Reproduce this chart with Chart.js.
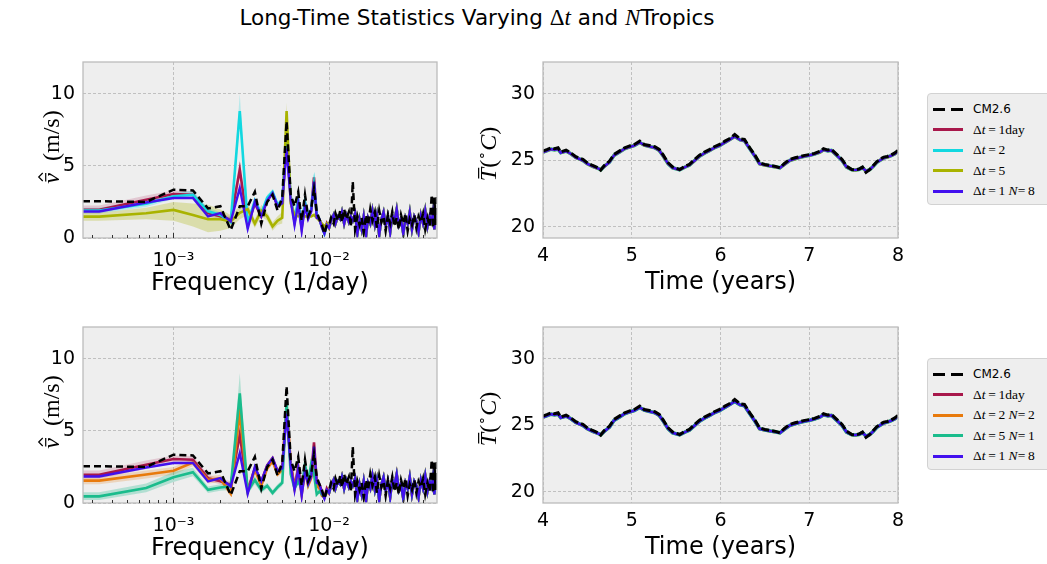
<!DOCTYPE html>
<html>
<head>
<meta charset="utf-8">
<script src="https://cdn.jsdelivr.net/npm/chart.js@4.4.0/dist/chart.umd.min.js"></script>
<style>
  body { margin:0; width:1047px; height:564px; background:#fff; position:relative; overflow:hidden;
         font-family:"DejaVu Sans", sans-serif; color:#000; }
  canvas { position:absolute; }
  .txt { position:absolute; white-space:nowrap; transform:translate(-50%,-50%); }
  .m { font-family:"Liberation Serif", serif; font-size:23px; }
  .legend { position:absolute; width:150px; padding:5px 0 2px 5px; background:#eeeeee;
            border:1px solid #d2d2d2; border-radius:4px; box-sizing:border-box; }
  .row { height:20.5px; display:flex; align-items:center; }
  .sw { width:30px; height:2.6px; margin-right:10px; flex:none; }
  .lt { font-family:"Liberation Serif", serif; font-size:13.5px; }
  .lt.sans { font-family:"DejaVu Sans", sans-serif; font-size:12px; }
</style>
</head>
<body>
<div class="txt" style="left:477px;top:18px;font-size:21.5px">Long-Time Statistics Varying <span class="m">Δ<i>t</i></span> and <span class="m"><i>N</i></span>Tropics</div>

<canvas id="specTop" width="449" height="258" style="left:3px;top:42px"></canvas>
<canvas id="timeTop" width="450" height="258" style="left:463px;top:42px"></canvas>
<canvas id="specBot" width="449" height="258" style="left:3px;top:307px"></canvas>
<canvas id="timeBot" width="450" height="258" style="left:463px;top:307px"></canvas>

<div class="legend" style="left:927px;top:93px">
  <div class="row"><span class="sw" style="background:linear-gradient(to right,#000 0 12px,transparent 12px 18px,#000 18px 30px)"></span><span class="lt sans">CM2.6</span></div>
  <div class="row"><span class="sw" style="background:#a8184b"></span><span class="lt">Δ<i>t</i>&thinsp;=&thinsp;1day</span></div>
  <div class="row"><span class="sw" style="background:#12d8e0"></span><span class="lt">Δ<i>t</i>&thinsp;=&thinsp;2</span></div>
  <div class="row"><span class="sw" style="background:#a9b300"></span><span class="lt">Δ<i>t</i>&thinsp;=&thinsp;5</span></div>
  <div class="row"><span class="sw" style="background:#4210ee"></span><span class="lt">Δ<i>t</i>&thinsp;=&thinsp;1 <i>N</i>=&thinsp;8</span></div>
</div>
<div class="legend" style="left:927px;top:358px">
  <div class="row"><span class="sw" style="background:linear-gradient(to right,#000 0 12px,transparent 12px 18px,#000 18px 30px)"></span><span class="lt sans">CM2.6</span></div>
  <div class="row"><span class="sw" style="background:#a8184b"></span><span class="lt">Δ<i>t</i>&thinsp;=&thinsp;1day</span></div>
  <div class="row"><span class="sw" style="background:#e87a0c"></span><span class="lt">Δ<i>t</i>&thinsp;=&thinsp;2 <i>N</i>=&thinsp;2</span></div>
  <div class="row"><span class="sw" style="background:#1abc8c"></span><span class="lt">Δ<i>t</i>&thinsp;=&thinsp;5 <i>N</i>=&thinsp;1</span></div>
  <div class="row"><span class="sw" style="background:#4210ee"></span><span class="lt">Δ<i>t</i>&thinsp;=&thinsp;1 <i>N</i>=&thinsp;8</span></div>
</div>

<script>
// ---- spectrum data (frequency in 1/day) ----
const freqLow = [0.000262, 0.000333, 0.000667, 0.001, 0.001333, 0.001667, 0.002, 0.002333, 0.002667, 0.003,
                 0.003333, 0.003667, 0.004, 0.004333, 0.004667, 0.005, 0.005333, 0.005667, 0.006, 0.006333,
                 0.006667, 0.007, 0.007333, 0.007667, 0.008, 0.008333, 0.008667, 0.009, 0.009333, 0.009667];
const freqHigh = [0.0100, 0.0103, 0.0107, 0.0110, 0.0114, 0.0118, 0.0121, 0.0125, 0.0129, 0.0134,
                  0.0138, 0.0142, 0.0147, 0.0152, 0.0157, 0.0162, 0.0167, 0.0173, 0.0178, 0.0184,
                  0.0190, 0.0197, 0.0203, 0.0210, 0.0217, 0.0224, 0.0231, 0.0239, 0.0247, 0.0255,
                  0.0263, 0.0272, 0.0281, 0.0290, 0.0300, 0.0310, 0.0320, 0.0330, 0.0341, 0.0353,
                  0.0364, 0.0376, 0.0389, 0.0402, 0.0415, 0.0429, 0.0443, 0.0457, 0.0466, 0.0475,
                  0.0484, 0.0495];

const cmLow   = [2.55, 2.55, 2.5, 3.35, 3.3, 2.05, 2.2, 0.55, 2.2, 2.2, 3.2, 1.0, 2.5, 3.0, 1.9, 2.8, 8.1, 3.0, 2.2, 3.2,
                 1.2, 3.0, 1.5, 2.0, 3.4, 1.8, 1.3, 0.9, 0.3, 0.9];
const d1Low   = [1.95, 1.95, 2.65, 3.05, 3.0, 1.72, 1.5, 1.26, 4.74, 0.9, 2.4, 1.5, 2.6, 3.1, 2.2, 2.5, 6.6, 2.8, 1.1, 2.5,
                 0.7, 2.4, 1.4, 1.9, 4.2, 1.5, 1.3, 0.8, 0.4, 1.0];
const d2Low   = [1.9, 1.9, 2.37, 2.9, 3.0, 1.85, 1.6, 1.1, 8.8, 1.0, 2.6, 1.7, 2.8, 3.2, 2.3, 2.6, 7.0, 2.9, 1.3, 2.6,
                 0.9, 2.5, 1.5, 2.0, 3.7, 1.6, 1.3, 0.8, 0.3, 0.9];
const d5Low   = [1.48, 1.48, 1.72, 1.95, 1.6, 1.3, 1.3, 1.15, 1.75, 2.0, 1.0, 1.9, 1.5, 0.8, 1.2, 1.4, 8.8, 2.4, 1.6, 1.5,
                 1.6, 1.5, 1.5, 1.5, 1.6, 1.4, 1.2, 1.0, 0.8, 1.0];
const n8Low   = [1.84, 1.84, 2.46, 2.77, 2.77, 1.49, 1.72, 1.15, 3.46, 0.65, 2.5, 1.5, 2.6, 3.1, 2.2, 2.4, 6.2, 2.6, 0.9, 2.4,
                 0.5, 2.2, 1.3, 1.8, 3.9, 1.4, 1.3, 0.7, 0.3, 0.9];
const d2n2Low = [1.55, 1.55, 1.97, 2.24, 2.8, 1.6, 1.7, 0.65, 6.3, 0.8, 2.3, 1.2, 2.4, 2.9, 2.0, 2.3, 6.8, 2.7, 1.0, 2.3,
                 0.6, 2.2, 1.2, 1.7, 3.5, 1.2, 1.0, 0.5, 0.4, 0.7];
const d5n1Low = [0.46, 0.46, 1.04, 1.78, 2.13, 0.92, 1.08, 1.15, 7.6, 0.8, 1.6, 0.9, 1.2, 0.7, 1.1, 1.4, 7.0, 2.0, 1.0, 1.5,
                 1.0, 2.7, 1.5, 2.7, 2.0, 0.6, 0.8, 0.6, 0.4, 0.8];

const hfCM    = [0.9, 1.4, 1.0, 1.7, 1.2, 1.9, 1.1, 2.0, 1.3, 1.8, 0.8, 3.9, 0.6, 1.5, 0.9, 1.4, 0.4, 1.6, 0.9, 2.0,
                 1.2, 1.8, 0.7, 1.9, 1.1, 1.5, 0.5, 1.6, 1.0, 1.8, 0.8, 1.4, 0.6, 1.6, 1.0, 1.7, 0.5, 1.3, 0.9, 1.6,
                 0.7, 1.5, 1.1, 1.7, 0.6, 1.4, 0.8, 3.0, 0.7, 2.8, 0.9, 3.1];
const hfModel = [0.7, 1.2, 1.6, 1.0, 1.5, 1.3, 1.8, 1.0, 1.6, 1.1, 1.5, 1.2, 1.7, 0.3, 1.3, 0.6, 1.5, 0.2, 1.4, 1.0,
                 1.9, 0.9, 1.6, 0.2, 1.3, 1.8, 0.9, 1.5, 0.4, 1.6, 1.2, 2.0, 0.9, 1.3, 0.3, 1.4, 1.0, 1.8, 0.6, 1.5,
                 1.2, 0.4, 1.6, 1.0, 1.9, 0.8, 1.5, 1.1, 1.8, 0.6, 1.7, 1.2];

// shaded spread, first 18 frequencies
const d1BandLo = [1.7, 1.7, 2.35, 2.75, 2.75, 1.5, 1.3, 1.0, 4.2, 0.7, 2.2, 1.3, 2.4, 2.9, 2.0, 2.3, 6.2, 2.6];
const d1BandHi = [2.25, 2.25, 2.95, 3.3, 3.25, 1.95, 1.7, 1.5, 5.4, 1.1, 2.6, 1.7, 2.8, 3.3, 2.4, 2.7, 7.0, 3.0];
const d2BandLo = [1.7, 1.7, 2.15, 2.7, 2.75, 1.6, 1.4, 0.9, 7.9, 0.8, 2.4, 1.5, 2.6, 3.0, 2.1, 2.4, 6.6, 2.7];
const d2BandHi = [2.1, 2.1, 2.6, 3.1, 3.3, 2.1, 1.8, 1.3, 10.0, 1.2, 2.8, 1.9, 3.0, 3.4, 2.5, 2.8, 7.5, 3.1];
const d5BandLo = [1.2, 1.2, 1.3, 1.2, 0.8, 0.4, 0.5, 0.7, 1.3, 1.6, 0.7, 1.5, 1.2, 0.5, 0.9, 1.0, 8.2, 2.0];
const d5BandHi = [1.75, 1.75, 2.1, 2.5, 2.4, 2.3, 2.0, 1.6, 2.2, 2.4, 1.3, 2.3, 1.8, 1.1, 1.5, 1.8, 9.4, 2.8];
const d2n2BandLo = [1.3, 1.3, 1.7, 1.95, 2.55, 1.35, 1.45, 0.45, 5.9, 0.6, 2.1, 1.0, 2.2, 2.7, 1.8, 2.1, 6.4, 2.5];
const d2n2BandHi = [1.8, 1.8, 2.25, 2.5, 3.05, 1.85, 1.95, 0.9, 6.8, 1.0, 2.5, 1.4, 2.6, 3.1, 2.2, 2.5, 7.2, 2.9];
const d5n1BandLo = [0.2, 0.2, 0.75, 1.45, 1.85, 0.7, 0.85, 0.9, 6.5, 0.6, 1.3, 0.7, 1.0, 0.5, 0.9, 1.2, 6.5, 1.8];
const d5n1BandHi = [0.75, 0.75, 1.35, 2.15, 2.45, 1.15, 1.3, 1.4, 9.0, 1.0, 1.9, 1.1, 1.4, 0.9, 1.3, 1.6, 7.5, 2.3];

// ---- temperature time series ----
const years = [4.0, 4.05, 4.09, 4.13, 4.17, 4.2, 4.26, 4.31, 4.37, 4.45, 4.5, 4.56, 4.62, 4.65, 4.69, 4.75, 4.8, 4.86, 4.92, 4.97,
               5.03, 5.09, 5.14, 5.2, 5.26, 5.31, 5.35, 5.41, 5.46, 5.54, 5.6, 5.65, 5.71, 5.76, 5.82, 5.88, 5.93, 5.99, 6.05, 6.1,
               6.16, 6.22, 6.27, 6.33, 6.39, 6.44, 6.5, 6.56, 6.61, 6.67, 6.72, 6.78, 6.84, 6.89, 6.95, 7.01, 7.06, 7.12, 7.16, 7.21,
               7.25, 7.31, 7.37, 7.42, 7.48, 7.52, 7.56, 7.6, 7.64, 7.68, 7.72, 7.76, 7.8, 7.84, 7.88, 7.92, 7.96, 8.0];
const tempCM = [25.70, 25.83, 25.95, 25.88, 25.95, 25.63, 25.78, 25.58, 25.28, 25.08, 24.82, 24.62, 24.45, 24.27, 24.62, 24.95, 25.45, 25.70, 25.95, 26.08,
                26.2, 26.45, 26.2, 26.13, 26.03, 25.83, 25.45, 24.82, 24.52, 24.32, 24.57, 24.70, 25.08, 25.38, 25.63, 25.83, 26.03, 26.2, 26.45, 26.63,
                26.95, 26.63, 26.58, 25.95, 25.38, 24.82, 24.7, 24.62, 24.57, 24.45, 24.77, 25.08, 25.2, 25.28, 25.38, 25.45, 25.53, 25.7, 25.88, 25.78,
                25.83, 25.45, 25.08, 24.57, 24.32, 24.3, 24.35, 24.5, 24.1, 24.3, 24.6, 24.9, 25.1, 25.25, 25.3, 25.4, 25.55, 25.75];
const tempModel = [25.62, 25.75, 25.85, 25.8, 25.85, 25.58, 25.7, 25.52, 25.22, 25.0, 24.75, 24.55, 24.4, 24.3, 24.55, 24.88, 25.38, 25.62, 25.88, 26.0,
                   26.12, 26.35, 26.15, 26.05, 25.95, 25.75, 25.38, 24.75, 24.45, 24.3, 24.5, 24.65, 25.0, 25.3, 25.55, 25.75, 25.95, 26.12, 26.35, 26.55,
                   26.8, 26.55, 26.48, 25.88, 25.3, 24.75, 24.65, 24.58, 24.52, 24.45, 24.7, 25.0, 25.12, 25.22, 25.32, 25.4, 25.48, 25.62, 25.8, 25.72,
                   25.75, 25.38, 25.0, 24.5, 24.3, 24.28, 24.32, 24.45, 24.2, 24.3, 24.55, 24.85, 25.02, 25.18, 25.25, 25.35, 25.48, 25.68];

// ---- ticks ----
const freqTicks = [0.0003, 0.0004, 0.0005, 0.0006, 0.0007, 0.0008, 0.0009, 0.001, 0.002, 0.003, 0.004, 0.005, 0.006,
                   0.007, 0.008, 0.009, 0.01, 0.02, 0.03, 0.04];
const freqMajor = [0.001, 0.01];
const freqMajorLabels = ['10⁻³', '10⁻²'];
const speedTicks = [0, 5, 10];
const yearTicks = [4, 5, 6, 7, 8];
const tempTicks = [20, 25, 30];

const RED = '#a8184b', CYAN = '#12d8e0', OLIVE = '#a9b300', BLUE = '#4210ee', ORANGE = '#e87a0c', GREEN = '#1abc8c';
const SERIF = "'Liberation Serif', serif";

Chart.defaults.font.family = "'DejaVu Sans', sans-serif";
Chart.defaults.color = '#000';

function isMajor(v) { return freqMajor.findIndex(m => Math.abs(v / m - 1) < 1e-6); }

function pts(xs, ys) { return xs.map((x, i) => ({ x: x, y: ys[i] })); }
function line(xs, ys, color, width, order, dash) {
  return { data: pts(xs, ys), borderColor: color, borderWidth: width, borderDash: dash || [],
           pointRadius: 0, fill: false, order: order, tension: 0 };
}
function band(xs, lo, hi, color, order) {
  return [
    { data: pts(xs, lo), borderColor: 'rgba(0,0,0,0)', borderWidth: 1, pointRadius: 0, fill: false, order: order },
    { data: pts(xs, hi), borderColor: 'rgba(0,0,0,0)', borderWidth: 1, pointRadius: 0, fill: '-1',
      backgroundColor: color, order: order }
  ];
}

// axes background, frame and small inward ticks on the log axis
const framePlugin = {
  id: 'frame',
  beforeDraw(c) {
    const a = c.chartArea, g = c.ctx;
    g.save(); g.fillStyle = '#eeeeee'; g.fillRect(a.left, a.top, a.width, a.height); g.restore();
  },
  afterDraw(c) {
    const a = c.chartArea, g = c.ctx;
    g.save();
    g.strokeStyle = '#bcbcbc'; g.lineWidth = 1.3;
    g.strokeRect(a.left, a.top, a.width, a.height);
    const sx = c.scales.x;
    if (sx.type === 'logarithmic') {
      g.strokeStyle = '#333'; g.lineWidth = 1;
      sx.ticks.forEach(t => {
        const px = Math.round(sx.getPixelForValue(t.value)) + 0.5;
        const len = isMajor(t.value) >= 0 ? 5 : 3;
        g.beginPath(); g.moveTo(px, a.bottom); g.lineTo(px, a.bottom - len); g.stroke();
      });
    }
    g.restore();
  }
};

// rotated math-style y label: v with bar and hat, or T with bar and (°C)
const yLabelPlugin = {
  id: 'ylab',
  afterDraw(c, args, o) {
    if (!o.kind) return;
    const g = c.ctx, fs = o.size;
    g.save();
    g.translate(o.x, o.y); g.rotate(-Math.PI / 2);
    g.fillStyle = '#000'; g.strokeStyle = '#000'; g.lineWidth = 1.2;
    g.textBaseline = 'alphabetic';
    const it = 'italic ' + fs + 'px ' + SERIF, up = fs + 'px ' + SERIF, sm = Math.round(fs * 0.6) + 'px ' + SERIF;
    const parts = o.kind === 'v'
      ? [{ t: 'v', f: it, bar: true, hat: true }, { t: '  (m/s)', f: up }]
      : [{ t: 'T', f: it, bar: true }, { t: '(', f: up }, { t: '∘', f: sm, sup: true }, { t: 'C', f: it }, { t: ')', f: up }];
    let w = 0;
    parts.forEach(p => { g.font = p.f; p.w = g.measureText(p.t).width; w += p.w; });
    let x = -w / 2;
    const base = fs * 0.33;
    parts.forEach(p => {
      g.font = p.f;
      g.fillText(p.t, x, p.sup ? base - fs * 0.4 : base);
      if (p.bar) {
        const top = p.t === 'T' ? base - fs * 0.72 : base - fs * 0.55;
        g.beginPath(); g.moveTo(x + p.w * 0.2, top); g.lineTo(x + p.w * 1.0, top); g.stroke();
        if (p.hat) {
          g.beginPath(); g.moveTo(x + p.w * 0.25, top - 3); g.lineTo(x + p.w * 0.62, top - 7);
          g.lineTo(x + p.w * 1.0, top - 3); g.stroke();
        }
      }
      x += p.w;
    });
    g.restore();
  }
};

const gridStyle = { color: '#b4b4b4', lineWidth: 0.8, drawTicks: false };

function makeChart(id, xScale, yScale, datasets, ylab) {
  new Chart(document.getElementById(id), {
    type: 'line',
    data: { datasets: datasets },
    options: {
      responsive: false, animation: false,
      layout: { padding: { top: 20, right: 15, bottom: 0, left: 0 } },
      plugins: { legend: { display: false }, tooltip: { enabled: false }, ylab: ylab },
      scales: { x: xScale, y: yScale }
    },
    plugins: [framePlugin, yLabelPlugin]
  });
}

function freqAxis() {
  return {
    type: 'logarithmic', min: 0.000262, max: 0.0494,
    afterBuildTicks: s => { s.ticks = freqTicks.map(v => ({ value: v })); },
    afterFit: s => { s.height = 62; },
    ticks: { autoSkip: false, maxRotation: 0, padding: 12, font: { size: 19 },
             callback: v => { const i = isMajor(v); return i < 0 ? '' : freqMajorLabels[i]; } },
    grid: Object.assign({}, gridStyle, { color: ctx => isMajor(ctx.tick.value) >= 0 ? '#b4b4b4' : 'rgba(0,0,0,0)' }),
    border: { display: false, dash: [3, 2] },
    title: { display: true, text: 'Frequency (1/day)', font: { size: 24 }, padding: { top: 0, bottom: 2 } }
  };
}
function speedAxis() {
  return {
    type: 'linear', min: 0, max: 12.2,
    afterBuildTicks: s => { s.ticks = speedTicks.map(v => ({ value: v })); },
    afterFit: s => { s.width = 80; },
    ticks: { padding: 8, font: { size: 19 } },
    grid: gridStyle, border: { display: false, dash: [3, 2] }
  };
}
function yearAxis() {
  return {
    type: 'linear', min: 4, max: 8,
    afterBuildTicks: s => { s.ticks = yearTicks.map(v => ({ value: v })); },
    afterFit: s => { s.height = 62; },
    ticks: { autoSkip: false, maxRotation: 0, padding: 7, font: { size: 19 } },
    grid: gridStyle, border: { display: false, dash: [3, 2] },
    title: { display: true, text: 'Time (years)', font: { size: 24 }, padding: { top: 0, bottom: 3 } }
  };
}
function tempAxis() {
  return {
    type: 'linear', min: 19.17, max: 32.4,
    afterBuildTicks: s => { s.ticks = tempTicks.map(v => ({ value: v })); },
    afterFit: s => { s.width = 80; },
    ticks: { padding: 8, font: { size: 19 } },
    grid: gridStyle, border: { display: false, dash: [3, 2] }
  };
}

const freqAll = freqLow.concat(freqHigh);
const freqBand = freqLow.slice(0, 18);

// top row: time step only
makeChart('specTop', freqAxis(), speedAxis(), [
  ...band(freqBand, d5BandLo, d5BandHi, 'rgba(169,179,0,0.28)', 20),
  ...band(freqBand, d2BandLo, d2BandHi, 'rgba(18,216,224,0.25)', 21),
  ...band(freqBand, d1BandLo, d1BandHi, 'rgba(168,24,75,0.18)', 22),
  line(freqAll, d1Low.concat(hfModel), RED, 2.6, 5),
  line(freqAll, d2Low.concat(hfModel), CYAN, 2.6, 4),
  line(freqAll, d5Low.concat(hfModel), OLIVE, 2.6, 3),
  line(freqAll, n8Low.concat(hfModel), BLUE, 2.4, 2),
  line(freqAll, cmLow.concat(hfCM), '#000', 2.5, 1, [7, 4])
], { kind: 'v', x: 48, y: 105, size: 24 });

makeChart('timeTop', yearAxis(), tempAxis(), [
  line(years, tempModel, RED, 2.8, 5),
  line(years, tempModel, CYAN, 3.6, 4),
  line(years, tempModel, OLIVE, 3.2, 3),
  line(years, tempModel, BLUE, 2.6, 2),
  line(years, tempCM, '#000', 3.0, 1, [8, 3])
], { kind: 'T', x: 25, y: 112, size: 24 });

// bottom row: time step and N
makeChart('specBot', freqAxis(), speedAxis(), [
  ...band(freqBand, d5n1BandLo, d5n1BandHi, 'rgba(26,188,140,0.28)', 20),
  ...band(freqBand, d2n2BandLo, d2n2BandHi, 'rgba(232,122,12,0.22)', 21),
  ...band(freqBand, d1BandLo, d1BandHi, 'rgba(168,24,75,0.18)', 22),
  line(freqAll, d1Low.concat(hfModel), RED, 2.6, 5),
  line(freqAll, d2n2Low.concat(hfModel), ORANGE, 2.6, 4),
  line(freqAll, d5n1Low.concat(hfModel), GREEN, 2.6, 3),
  line(freqAll, n8Low.concat(hfModel), BLUE, 2.4, 2),
  line(freqAll, cmLow.concat(hfCM), '#000', 2.5, 1, [7, 4])
], { kind: 'v', x: 48, y: 105, size: 24 });

makeChart('timeBot', yearAxis(), tempAxis(), [
  line(years, tempModel, RED, 2.8, 5),
  line(years, tempModel, ORANGE, 3.2, 4),
  line(years, tempModel, GREEN, 3.6, 3),
  line(years, tempModel, BLUE, 2.6, 2),
  line(years, tempCM, '#000', 3.0, 1, [8, 3])
], { kind: 'T', x: 25, y: 112, size: 24 });
</script>
</body>
</html>
